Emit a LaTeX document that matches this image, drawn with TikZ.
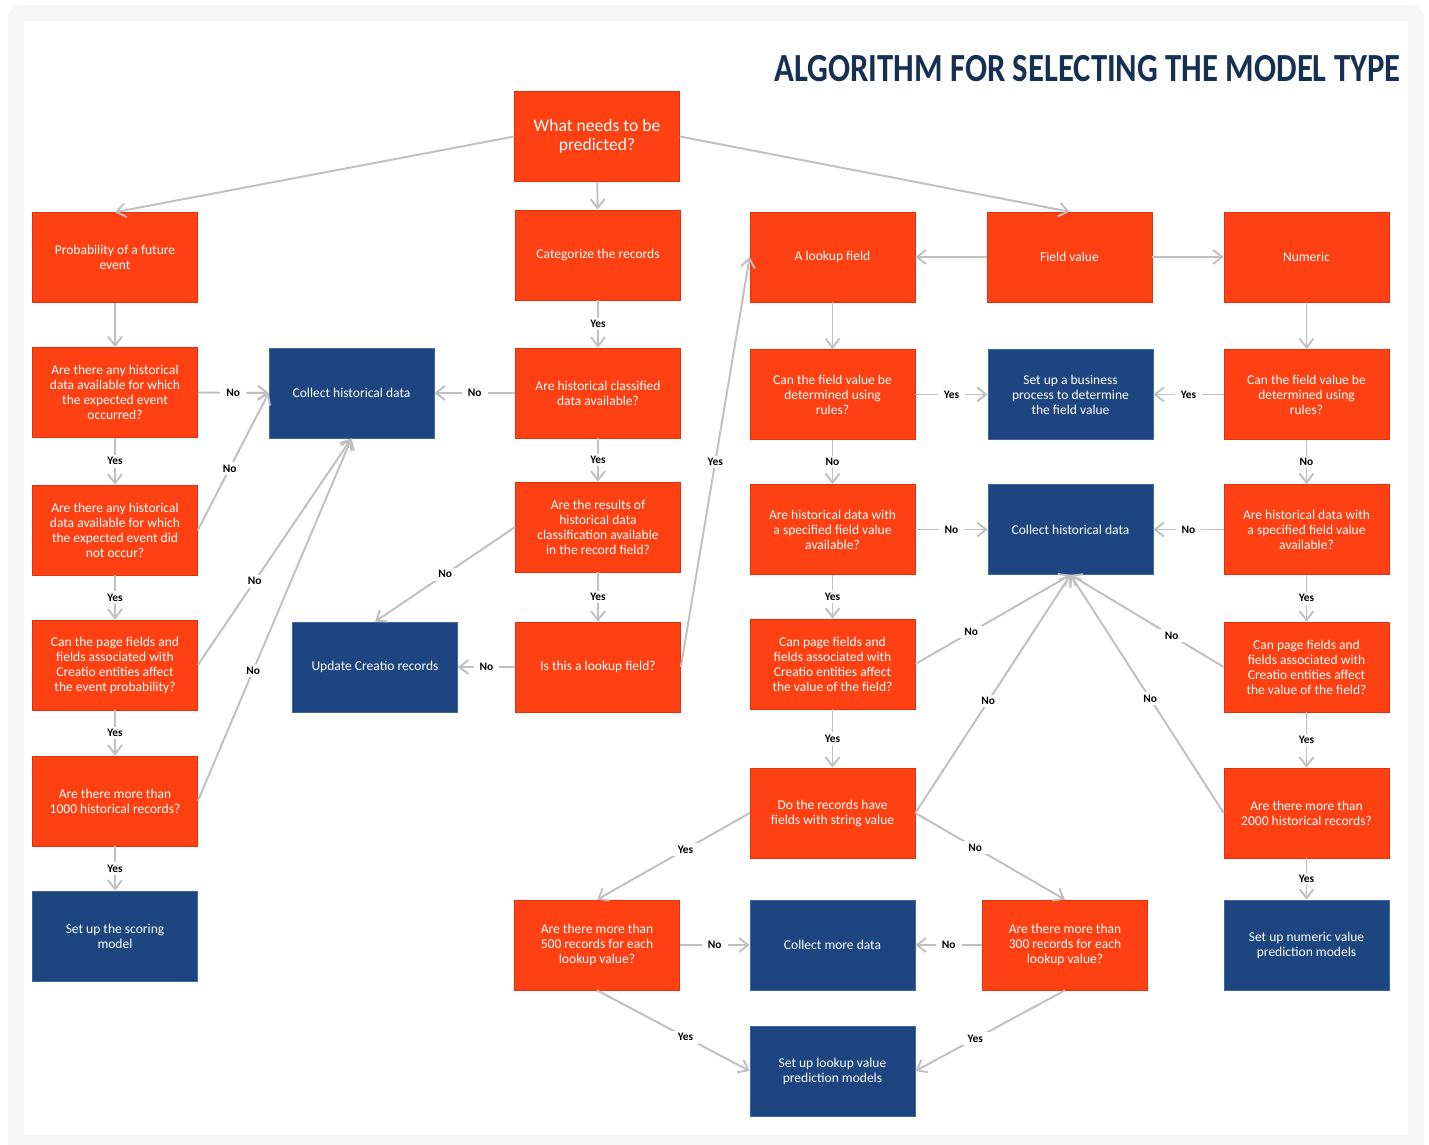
\documentclass[tikz,border=0pt]{standalone}
\usepackage{fontspec}
\setmainfont{Carlito}
\usepackage{graphicx}
\usetikzlibrary{arrows.meta}
\definecolor{boxorange}{RGB}{254,64,18}
\definecolor{boxorangeline}{RGB}{222,50,12}
\definecolor{boxblue}{RGB}{29,69,128}
\definecolor{boxblueline}{RGB}{62,102,160}
\definecolor{titleblue}{RGB}{22,48,84}
\definecolor{linkgray}{RGB}{192,192,192}
\definecolor{framegray}{RGB}{246,246,246}
\tikzstyle{question}=[rectangle,draw=boxorangeline,fill=boxorange,text=white,minimum width=3.3cm,minimum height=1.8cm,align=center,inner sep=1pt,font=\fontsize{7.7}{8.5}\selectfont]
\tikzstyle{action}=[question,draw=boxblueline,fill=boxblue]
\tikzstyle{link}=[draw=linkgray,line width=1.1pt,-{Straight Barb[length=1.8mm,width=2.8mm]}]
\tikzstyle{answer}=[fill=white,text=black,inner xsep=3.5pt,inner ysep=1.5pt,font=\fontsize{6.5}{7}\selectfont\bfseries]

\begin{document}
\begin{tikzpicture}[x=0.02cm,y=-0.02cm]
  \useasboundingbox (0,0) rectangle (1429,1145);
  \fill[framegray,rounded corners=0.25cm] (8,1160) -- (8,5) -- (1424,5) -- (1424,1160) -- cycle;
  \fill[white] (24,21) rectangle (1408,1135);

  \node[anchor=east,inner sep=0pt,text=titleblue,font=\fontsize{18.6}{20}\selectfont\bfseries] (title) at (1401,69)
    {\scalebox{1}[1.22]{ALGORITHM FOR SELECTING THE MODEL TYPE}};

  \node[question,font=\fontsize{10}{10.8}\selectfont] (what) at (597,136.5) {What needs to be\\predicted?};

  % probability column
  \node[question] (prob) at (115,257.5) {Probability of a future\\event};
  \node[question] (q1) at (115,392.5) {Are there any historical\\data available for which\\the expected event\\occurred?};
  \node[question] (q2) at (115,530) {Are there any historical\\data available for which\\the expected event did\\not occur?};
  \node[question] (q3) at (115,665) {Can the page fields and\\fields associated with\\Creatio entities affect\\the event probability?};
  \node[question] (q4) at (115,801) {Are there more than\\1000 historical records?};
  \node[action] (scoring) at (115,936) {Set up the scoring\\model};
  \node[action] (collect1) at (351.5,393) {Collect historical data};
  \node[action] (update) at (375,667) {Update Creatio records};

  % categorize column
  \node[question] (categorize) at (598,255) {Categorize the records};
  \node[question] (histclass) at (598,393) {Are historical classified\\data available?};
  \node[question] (results) at (598,527) {Are the results of\\historical data\\classification available\\in the record field?};
  \node[question] (islookup) at (598,667) {Is this a lookup field?};

  % field value columns
  \node[question] (lookup) at (832.5,257) {A lookup field};
  \node[question] (fieldvalue) at (1069.5,257) {Field value};
  \node[question] (numeric) at (1306.5,257) {Numeric};
  \node[question] (rulesL) at (832.5,394.5) {Can the field value be\\determined using\\rules?};
  \node[action] (business) at (1070.5,394.5) {Set up a business\\process to determine\\the field value};
  \node[question] (rulesR) at (1306.5,394.5) {Can the field value be\\determined using\\rules?};
  \node[question] (specL) at (832.5,529.5) {Are historical data with\\a specified field value\\available?};
  \node[action] (collect2) at (1070.5,529.5) {Collect historical data};
  \node[question] (specR) at (1306.5,529.5) {Are historical data with\\a specified field value\\available?};
  \node[question] (pageL) at (832.5,664) {Can page fields and\\fields associated with\\Creatio entities affect\\the value of the field?};
  \node[question] (pageR) at (1306.5,667) {Can page fields and\\fields associated with\\Creatio entities affect\\the value of the field?};
  \node[question] (string) at (832.5,813) {Do the records have\\fields with string value};
  \node[question] (r2000) at (1306.5,813) {Are there more than\\2000 historical records?};
  \node[question] (r500) at (597,945) {Are there more than\\500 records for each\\lookup value?};
  \node[action] (moredata) at (832.5,945) {Collect more data};
  \node[question] (r300) at (1065,945) {Are there more than\\300 records for each\\lookup value?};
  \node[action] (numericmodels) at (1306.5,945) {Set up numeric value\\prediction models};
  \node[action] (lookupmodels) at (832.5,1071) {Set up lookup value\\prediction models};

  \draw[link] (what.west) -- (prob.north);
  \draw[link] (what) -- (categorize);
  \draw[link] (what.east) -- (fieldvalue.north);
  \draw[link] (fieldvalue) -- (lookup);
  \draw[link] (fieldvalue) -- (numeric);
  \draw[link] (prob) -- (q1);
  \draw[link] (lookup) -- (rulesL);
  \draw[link] (numeric) -- (rulesR);

  \foreach \a/\b/\t in {q1/collect1/No, q1/q2/Yes, q2/q3/Yes, q3/q4/Yes, q4/scoring/Yes,
    categorize/histclass/Yes, histclass/collect1/No, histclass/results/Yes, results/islookup/Yes,
    islookup/update/No, rulesL/business/Yes, rulesR/business/Yes, rulesL/specL/No, rulesR/specR/No,
    specL/collect2/No, specR/collect2/No, specL/pageL/Yes, specR/pageR/Yes, pageL/string/Yes,
    pageR/r2000/Yes, r2000/numericmodels/Yes, r500/moredata/No, r300/moredata/No} {
    \draw[link] (\a) -- node[answer] {\t} (\b);
  }

  % slanted connectors
  \foreach \a/\b/\p/\t in {q2.east/collect1.west/.45/No, q3.east/collect1.south/.37/No,
    q4.east/collect1.south/.36/No, results.west/update.north/.5/No, islookup.east/lookup.west/.5/Yes,
    pageL.east/collect2.south/.36/No, pageR.west/collect2.south/.34/No,
    string.east/collect2.south/.47/No, r2000.west/collect2.south/.48/No,
    string.west/r500.north/.42/Yes, string.east/r300.north/.4/No,
    r500.south/lookupmodels.west/.58/Yes, r300.south/lookupmodels.east/.6/Yes} {
    \draw[link] (\a) -- node[answer,pos=\p] {\t} (\b);
  }
\end{tikzpicture}
\end{document}
